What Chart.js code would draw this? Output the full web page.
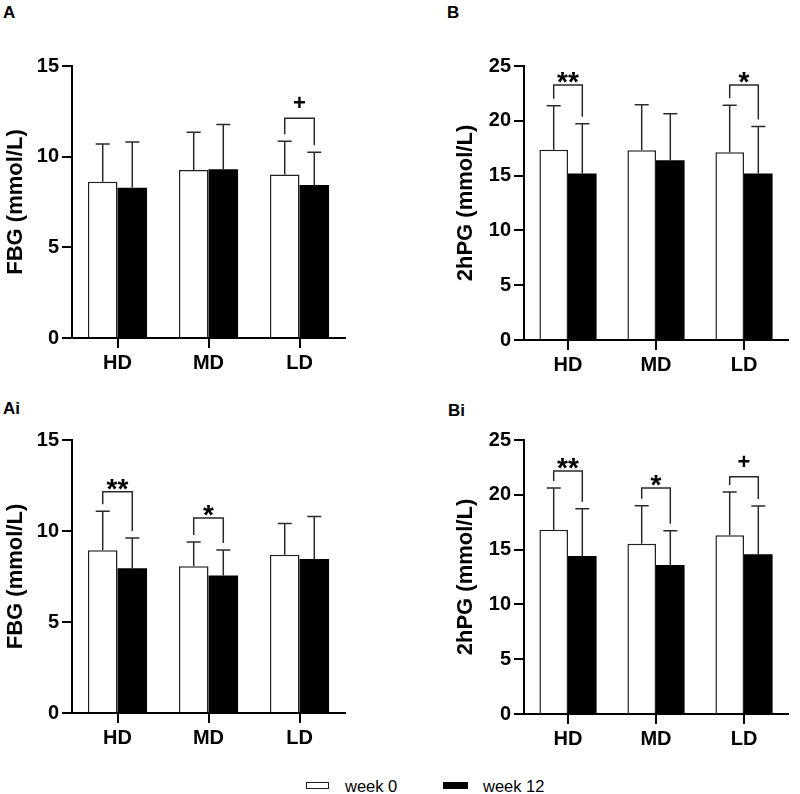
<!DOCTYPE html>
<html>
<head>
<meta charset="utf-8">
<script src="https://cdn.jsdelivr.net/npm/chart.js@4.4.1/dist/chart.umd.min.js"></script>
<style>
  body { margin: 0; background: #fff; font-family: "Liberation Sans", Arial, sans-serif; }
  #page { position: relative; width: 800px; height: 794px; overflow: hidden; background: #fff; }
  canvas { position: absolute; }
  .tag { position: absolute; font-weight: bold; font-size: 17px; line-height: 17px; color: #000; }
  .lbox { position: absolute; width: 23px; height: 7px; box-sizing: border-box; }
  .ltext { position: absolute; font-size: 16.5px; line-height: 16px; color: #000; }
</style>
</head>
<body>
<div id="page">
  <div class="tag" style="left:3px;top:4px">A</div>
  <div class="tag" style="left:447px;top:4px">B</div>
  <div class="tag" style="left:3px;top:400px">Ai</div>
  <div class="tag" style="left:448px;top:402px">Bi</div>

  <canvas id="chartA" width="400" height="340" style="left:0;top:40px"></canvas>
  <canvas id="chartB" width="400" height="340" style="left:400px;top:40px"></canvas>
  <canvas id="chartAi" width="400" height="340" style="left:0;top:414px"></canvas>
  <canvas id="chartBi" width="400" height="340" style="left:400px;top:414px"></canvas>

  <div class="lbox" style="left:306px;top:782px;border:1.5px solid #222;background:#fff"></div>
  <div class="ltext" style="left:345px;top:778px">week 0</div>
  <div class="lbox" style="left:443px;top:782px;width:25px;background:#000"></div>
  <div class="ltext" style="left:483px;top:778px">week 12</div>
</div>

<script>
// groups and legend
const groups = ['HD', 'MD', 'LD'];
const seriesNames = ['week 0', 'week 12'];

// A: FBG (mean, SD)
const fbgWeek0 = [8.62, 9.27, 9.01];
const fbgWeek0Sd = [2.08, 2.07, 1.84];
const fbgWeek12 = [8.29, 9.30, 8.44];
const fbgWeek12Sd = [2.52, 2.47, 1.80];

// B: 2hPG
const hpgWeek0 = [17.35, 17.32, 17.14];
const hpgWeek0Sd = [4.02, 4.14, 4.29];
const hpgWeek12 = [15.20, 16.41, 15.20];
const hpgWeek12Sd = [4.53, 4.23, 4.29];

// Ai: FBG
const fbgiWeek0 = [8.94, 8.07, 8.70];
const fbgiWeek0Sd = [2.15, 1.33, 1.71];
const fbgiWeek12 = [7.96, 7.56, 8.46];
const fbgiWeek12Sd = [1.66, 1.40, 2.33];

// Bi: 2hPG
const hpgiWeek0 = [16.82, 15.54, 16.30];
const hpgiWeek0Sd = [3.80, 3.47, 3.96];
const hpgiWeek12 = [14.42, 13.60, 14.57];
const hpgiWeek12Sd = [4.31, 3.13, 4.41];

// significance brackets: [group index, bracket value, mark]
const bracketsA = [[2, 12.12, '+']];
const bracketsB = [[0, 23.26, '**'], [2, 23.26, '*']];
const bracketsAi = [[0, 12.16, '**'], [1, 10.72, '*']];
const bracketsBi = [[0, 22.17, '**'], [1, 20.62, '*'], [2, 21.65, '+']];

const FONT = '"Liberation Sans", Arial, sans-serif';
Chart.defaults.font.family = FONT;
Chart.defaults.color = '#000';

// Upward-only error bars + significance brackets
const annotatePlugin = {
    id: 'annotate',
    afterDatasetsDraw(chart, args, opts) {
        const ctx = chart.ctx;
        const y = chart.scales.y;
        const capTops = [];
        ctx.save();
        ctx.strokeStyle = '#2a2a2a';
        ctx.lineWidth = 1.5;
        chart.data.datasets.forEach((ds, i) => {
            const meta = chart.getDatasetMeta(i);
            capTops[i] = [];
            meta.data.forEach((bar, j) => {
                const top = y.getPixelForValue(ds.data[j] + ds.sd[j]);
                capTops[i][j] = top;
                ctx.beginPath();
                ctx.moveTo(bar.x, bar.y);
                ctx.lineTo(bar.x, top);
                ctx.moveTo(bar.x - 7, top);
                ctx.lineTo(bar.x + 7, top);
                ctx.stroke();
            });
        });

        (opts.items || []).forEach(([g, val, mark]) => {
            const x1 = chart.getDatasetMeta(0).data[g].x;
            const x2 = chart.getDatasetMeta(1).data[g].x;
            const by = y.getPixelForValue(val);
            ctx.beginPath();
            ctx.moveTo(x1, capTops[0][g] - 7);
            ctx.lineTo(x1, by);
            ctx.lineTo(x2, by);
            ctx.lineTo(x2, capTops[1][g] - 7);
            ctx.stroke();

            ctx.fillStyle = '#000';
            ctx.textAlign = 'center';
            ctx.textBaseline = 'alphabetic';
            if (mark === '+') {
                ctx.font = 'bold 22px ' + FONT;
                ctx.fillText(mark, (x1 + x2) / 2, by - 8);
            } else {
                ctx.font = 'bold 28px ' + FONT;
                ctx.fillText(mark, (x1 + x2) / 2, by + 6);
            }
        });
        ctx.restore();
    }
};

function makePanel(canvasId, yTitle, yMax, w0, w0sd, w12, w12sd, brackets, box) {
    return new Chart(document.getElementById(canvasId), {
        type: 'bar',
        data: {
            labels: groups,
            datasets: [{
                label: seriesNames[0],
                data: w0,
                sd: w0sd,
                backgroundColor: '#fff',
                borderColor: '#222',
                borderWidth: 1.5
            }, {
                label: seriesNames[1],
                data: w12,
                sd: w12sd,
                backgroundColor: '#000',
                borderColor: '#000',
                borderWidth: 0
            }]
        },
        options: {
            responsive: false,
            animation: false,
            layout: {
                padding: { left: box.padLeft, right: box.padRight, top: 26, bottom: 0 }
            },
            datasets: {
                bar: { categoryPercentage: 0.65, barPercentage: 1.0 }
            },
            plugins: {
                legend: { display: false },
                tooltip: { enabled: false },
                annotate: { items: brackets }
            },
            scales: {
                x: {
                    afterFit: s => { s.height = box.xHeight; },
                    grid: {
                        offset: false,
                        drawOnChartArea: false,
                        tickLength: 10,
                        color: '#000',
                        lineWidth: 2
                    },
                    border: { display: true, color: '#000', width: 2 },
                    ticks: {
                        color: '#000',
                        padding: 3,
                        font: { size: 20, weight: 'bold' }
                    }
                },
                y: {
                    min: 0,
                    max: yMax,
                    afterFit: s => { s.width = box.yWidth; },
                    grid: {
                        drawOnChartArea: false,
                        tickLength: 10,
                        color: '#000',
                        lineWidth: 2
                    },
                    border: { display: true, color: '#000', width: 2 },
                    ticks: {
                        stepSize: 5,
                        color: '#000',
                        padding: 3,
                        font: { size: 20, weight: 'bold' }
                    },
                    title: {
                        display: true,
                        text: yTitle,
                        color: '#000',
                        padding: { top: 3, bottom: 0 },
                        font: { size: 22, weight: 'bold' }
                    }
                }
            }
        },
        plugins: [annotatePlugin]
    });
}

makePanel('chartA', 'FBG (mmol/L)', 15, fbgWeek0, fbgWeek0Sd, fbgWeek12, fbgWeek12Sd, bracketsA,
    { padLeft: 0, padRight: 55, yWidth: 72, xHeight: 42 });
makePanel('chartB', '2hPG (mmol/L)', 25, hpgWeek0, hpgWeek0Sd, hpgWeek12, hpgWeek12Sd, bracketsB,
    { padLeft: 50, padRight: 12, yWidth: 74, xHeight: 40 });
makePanel('chartAi', 'FBG (mmol/L)', 15, fbgiWeek0, fbgiWeek0Sd, fbgiWeek12, fbgiWeek12Sd, bracketsAi,
    { padLeft: 0, padRight: 55, yWidth: 72, xHeight: 41 });
makePanel('chartBi', '2hPG (mmol/L)', 25, hpgiWeek0, hpgiWeek0Sd, hpgiWeek12, hpgiWeek12Sd, bracketsBi,
    { padLeft: 50, padRight: 12, yWidth: 74, xHeight: 40 });
</script>
</body>
</html>
